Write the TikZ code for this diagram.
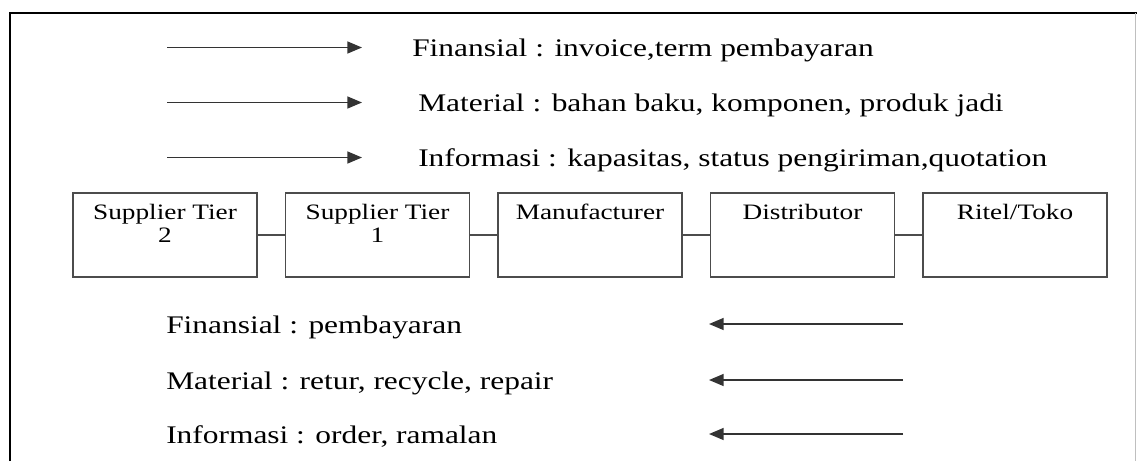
\documentclass[tikz,border=0pt]{standalone}
\usepackage{fontspec}
\setmainfont{Liberation Serif}[FakeStretch=1.24]
\usetikzlibrary{arrows.meta, positioning}
\newcommand\twoline[2]{\begin{tabular}[t]{@{}c@{}}#1\\#2\end{tabular}}
\tikzset{
  flow/.style={-{Triangle[length=11pt,width=9pt]}, line width=1.1pt, color=black!80},
  link/.style={line width=1.1pt, color=black!70},
  lbl/.style={anchor=base west, inner sep=0pt, font=\fontsize{19}{22}\selectfont},
}
\begin{document}
\begin{tikzpicture}[x=0.75pt,y=-0.75pt,
stage/.style={draw=black!70,line width=1.1pt,inner sep=0pt,minimum width=138pt,
  text height=19.5pt,text depth=43.5pt,font=\fontsize{16.5}{17.5}\selectfont}]
\useasboundingbox (0,0) rectangle (1137,461);
\draw[line width=2pt] (10,461)--(10,13)--(1137,13);
\draw[black!25,line width=.75pt] (1135,13)--(1135,461);
% aliran maju
\foreach \n/\y/\x/\t in {fin/56/412/{Finansial : invoice,term pembayaran},
  mat/111/418/{Material : bahan baku, komponen, produk jadi},
  inf/166/418/{Informasi : kapasitas, status pengiriman,quotation}}{
\coordinate (\n0) at (167,\y-8.5);\coordinate (\n1) at (362,\y-8.5);
\draw[flow] (\n0)--(\n1);
\node[lbl] (\n txt) at (\x,\y) {\t};}
% rantai pasok
\foreach \n/\i/\t in {sup2/0/{\twoline{Supplier Tier}{2}},sup1/1/{\twoline{Supplier Tier}{1}},
  mfg/2/Manufacturer,dist/3/Distributor,ritel/4/{Ritel/Toko}}
\node[stage] (\n) at (165+212.5*\i,235) {\t};
\foreach \a/\b in {sup2/sup1,sup1/mfg,mfg/dist,dist/ritel}
\draw[link] (\a)--(\b);
% aliran balik
\foreach \n/\y/\t in {bfin/333/{Finansial : pembayaran},bmat/389/{Material : retur, recycle, repair},
  binf/443/{Informasi : order, ramalan}}{
\coordinate (\n0) at (903,\y-9);\coordinate (\n1) at (709,\y-9);
\draw[flow] (\n0)--(\n1);
\node[lbl] (\n txt) at (166,\y) {\t};}
\end{tikzpicture}
\end{document}
